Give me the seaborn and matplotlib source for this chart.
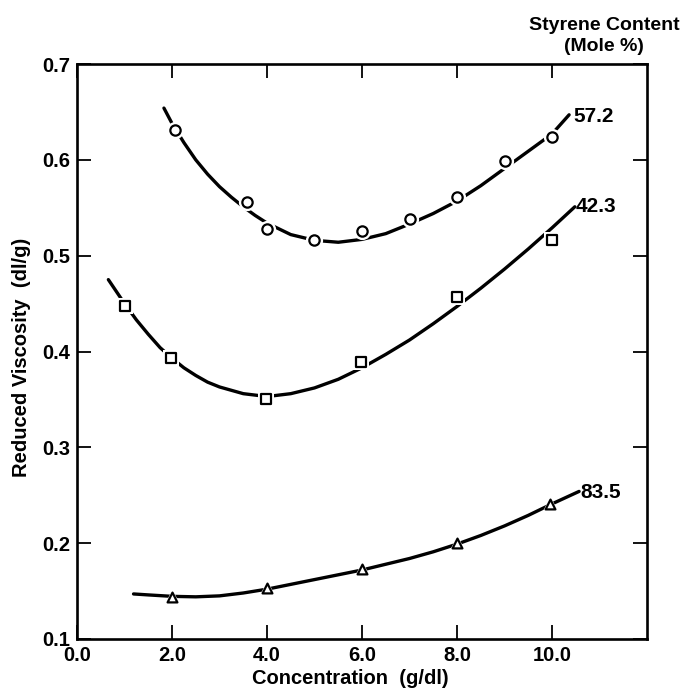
"""Reduced viscosity vs concentration for three styrene contents."""
import matplotlib
matplotlib.use("Agg")
import matplotlib.pyplot as plt
import pandas as pd
import seaborn as sns

sns.set_theme(style="ticks")
plt.rcParams["font.family"] = ["Liberation Sans", "DejaVu Sans"]
plt.rcParams["font.weight"] = "bold"
plt.rcParams.update({"text.color": "black", "axes.labelcolor": "black",
                     "xtick.color": "black", "ytick.color": "black"})

conc_572 = [2.06, 3.57, 4.01, 4.98, 5.99, 7.01, 7.99, 9.01, 9.99]
visc_572 = [0.631, 0.556, 0.528, 0.516, 0.526, 0.538, 0.561, 0.599, 0.624]
conc_423 = [1.02, 1.98, 3.97, 5.98, 8.0, 9.99]
visc_423 = [0.448, 0.393, 0.350, 0.389, 0.457, 0.516]
conc_835 = [2.01, 4.0, 6.0, 8.0, 9.96]
visc_835 = [0.1435, 0.153, 0.173, 0.200, 0.241]

# hand-drawn fit curves
fit_c_572 = [1.83, 2.0, 2.25, 2.5, 2.75, 3.0, 3.25, 3.5, 3.75, 4.0, 4.5, 5.0,
             5.5, 6.0, 6.5, 7.0, 7.5, 8.0, 8.5, 9.0, 9.5, 10.0, 10.36]
fit_v_572 = [0.654, 0.638, 0.618, 0.600, 0.585, 0.572, 0.561, 0.551, 0.542,
             0.534, 0.522, 0.516, 0.514, 0.517, 0.523, 0.533, 0.544, 0.557,
             0.573, 0.591, 0.609, 0.627, 0.647]
fit_c_423 = [0.66, 1.0, 1.25, 1.5, 1.75, 2.0, 2.25, 2.5, 2.75, 3.0, 3.5, 4.0,
             4.5, 5.0, 5.5, 6.0, 6.5, 7.0, 7.5, 8.0, 8.5, 9.0, 9.5, 10.0, 10.48]
fit_v_423 = [0.475, 0.450, 0.433, 0.418, 0.404, 0.393, 0.383, 0.375, 0.368,
             0.363, 0.356, 0.353, 0.356, 0.362, 0.371, 0.383, 0.397, 0.412,
             0.429, 0.447, 0.466, 0.486, 0.507, 0.529, 0.551]
fit_c_835 = [1.19, 1.5, 2.0, 2.5, 3.0, 3.5, 4.0, 4.5, 5.0, 5.5, 6.0, 6.5,
             7.0, 7.5, 8.0, 8.5, 9.0, 9.5, 10.0, 10.57]
fit_v_835 = [0.147, 0.146, 0.1445, 0.144, 0.145, 0.148, 0.152, 0.157, 0.162,
             0.167, 0.172, 0.178, 0.184, 0.191, 0.199, 0.208, 0.218, 0.229,
             0.241, 0.254]

labels = ["57.2", "42.3", "83.5"]
label_pos = [(10.44, 0.645), (10.5, 0.551), (10.6, 0.253)]
x_ticks = [0, 2, 4, 6, 8, 10]
y_ticks = [0.1, 0.2, 0.3, 0.4, 0.5, 0.6, 0.7]

series = [
    (labels[0], conc_572, visc_572, fit_c_572, fit_v_572, "o", 55),
    (labels[1], conc_423, visc_423, fit_c_423, fit_v_423, "s", 45),
    (labels[2], conc_835, visc_835, fit_c_835, fit_v_835, "^", 50),
]

fig = plt.figure(figsize=(6.87, 6.92), dpi=100)
ax = fig.add_axes([0.1121, 0.0766, 0.8297, 0.8309])

for name, cx, vy, fc, fv, mk, s in series:
    fit = pd.DataFrame({"c": fc, "v": fv})
    pts = pd.DataFrame({"c": cx, "v": vy})
    sns.lineplot(data=fit, x="c", y="v", sort=False, estimator=None,
                 color="black", linewidth=2.4, ax=ax, zorder=2,
                 solid_joinstyle="round", solid_capstyle="round")
    # white halo to break the curve around each symbol
    sns.scatterplot(data=pts, x="c", y="v", marker=mk, s=s * 2.8,
                    color="white", edgecolor="white", linewidth=0, ax=ax, zorder=3)
    sns.scatterplot(data=pts, x="c", y="v", marker=mk, s=s,
                    facecolor="white", edgecolor="black", linewidth=1.6, ax=ax, zorder=4)

for name, (lx, ly) in zip(labels, label_pos):
    ax.text(lx, ly, name, fontsize=15, fontweight="bold", ha="left", va="center")

ax.set_xlim(0, 12)
ax.set_ylim(0.1, 0.7)
ax.set_xticks(x_ticks)
ax.set_xticklabels([f"{t:.1f}" for t in x_ticks])
ax.set_yticks(y_ticks)
ax.set_yticklabels([f"{t:.1f}" for t in y_ticks])
ax.tick_params(direction="in", length=10, width=1.3, labelsize=14.5,
               top=True, right=True, pad=5)
for lab in ax.get_xticklabels() + ax.get_yticklabels():
    lab.set_fontweight("bold")
for sp in ax.spines.values():
    sp.set_visible(True)
    sp.set_linewidth(1.9)
    sp.set_color("black")

ax.set_xlabel("Concentration  (g/dl)", fontsize=14.5, fontweight="bold")
ax.set_ylabel("Reduced Viscosity  (dl/g)", fontsize=14.5, fontweight="bold")
ax.xaxis.set_label_coords(0.48, -0.052)
ax.yaxis.set_label_coords(-0.081, 0.49)

fig.text(0.879, 0.948, "Styrene Content\n(Mole %)", fontsize=14, fontweight="bold",
         ha="center", va="center", multialignment="center", linespacing=1.3)

fig.savefig("out.png", dpi=100)
